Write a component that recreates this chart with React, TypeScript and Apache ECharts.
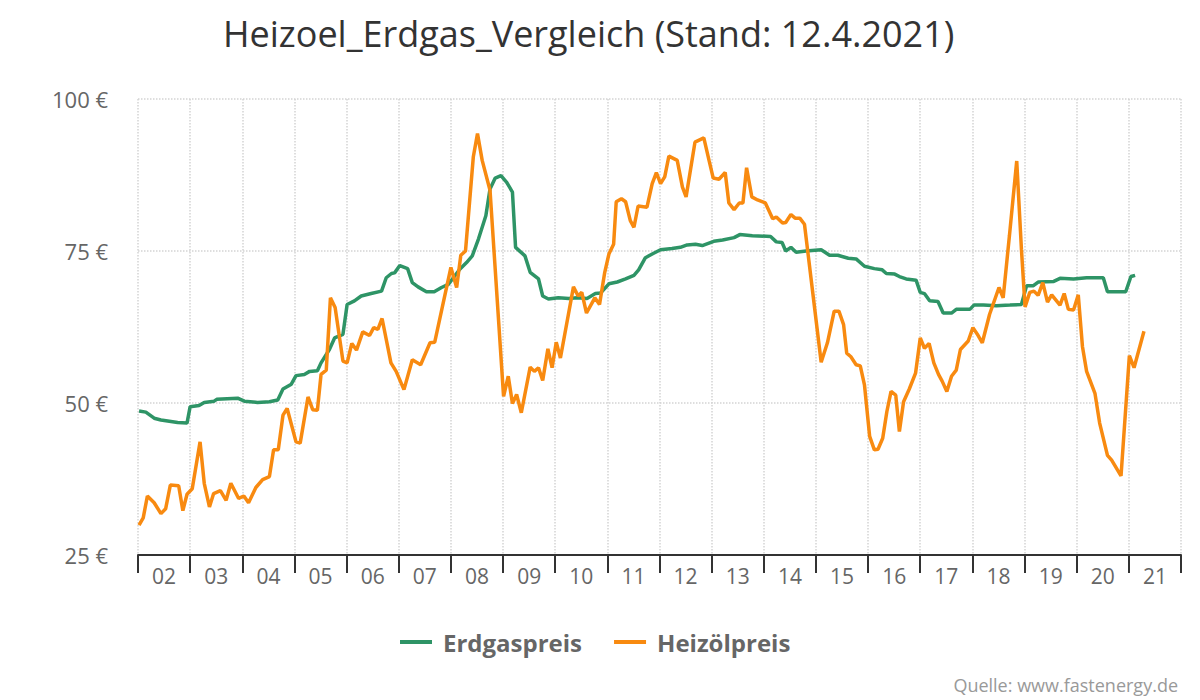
import React, { useEffect, useRef } from "react";
import * as echarts from "echarts";

const yearLabels = ["02","03","04","05","06","07","08","09","10","11","12","13","14","15","16","17","18","19","20","21"];
const yTicks = { min: 25, max: 100, interval: 25 };

const gasData: [number, number][] = [
  [2002.02,48.7],[2002.15,48.5],[2002.31,47.5],[2002.44,47.2],[2002.76,46.8],[2002.94,46.7],
  [2003.0,49.4],[2003.17,49.6],[2003.27,50.1],[2003.46,50.3],[2003.51,50.6],[2003.91,50.8],
  [2004.04,50.3],[2004.29,50.1],[2004.52,50.2],[2004.68,50.5],[2004.78,52.3],[2004.94,53.1],
  [2005.03,54.5],[2005.19,54.7],[2005.29,55.2],[2005.44,55.3],[2005.51,56.6],[2005.67,58.8],
  [2005.77,60.7],[2005.93,61.3],[2006.01,66.2],[2006.15,66.8],[2006.28,67.6],[2006.47,68.0],
  [2006.67,68.4],[2006.76,70.6],[2006.86,71.3],[2006.92,71.4],[2007.02,72.6],[2007.17,72.1],
  [2007.26,69.8],[2007.37,69.1],[2007.53,68.3],[2007.68,68.3],[2007.82,69.0],[2007.95,69.5],
  [2008.17,72.0],[2008.30,73.1],[2008.41,74.2],[2008.53,77.0],[2008.67,80.8],[2008.75,85.2],
  [2008.85,87.0],[2008.96,87.4],[2009.07,86.3],[2009.18,84.7],[2009.24,75.6],[2009.33,74.9],
  [2009.42,74.2],[2009.52,71.5],[2009.68,70.4],[2009.76,67.6],[2009.87,67.1],[2010.06,67.3],
  [2010.26,67.2],[2010.42,67.3],[2010.61,67.2],[2010.77,68.0],[2010.87,68.1],[2011.03,69.6],
  [2011.19,69.9],[2011.35,70.4],[2011.51,71.0],[2011.60,71.9],[2011.73,73.9],[2011.86,74.5],
  [2012.02,75.2],[2012.24,75.4],[2012.40,75.6],[2012.53,76.0],[2012.69,76.1],[2012.82,75.9],
  [2013.04,76.6],[2013.21,76.8],[2013.43,77.2],[2013.54,77.7],[2013.78,77.5],[2014.13,77.4],
  [2014.24,76.5],[2014.35,76.4],[2014.42,75.0],[2014.52,75.6],[2014.62,74.8],[2014.81,75.0],
  [2015.10,75.2],[2015.26,74.3],[2015.42,74.3],[2015.62,73.8],[2015.77,73.7],[2015.93,72.5],
  [2016.12,72.1],[2016.27,71.9],[2016.35,71.3],[2016.51,71.2],[2016.60,70.8],[2016.73,70.4],
  [2016.92,70.2],[2017.0,68.2],[2017.08,68.0],[2017.18,66.8],[2017.34,66.7],[2017.44,64.8],
  [2017.60,64.8],[2017.69,65.4],[2017.95,65.4],[2018.03,66.1],[2018.21,66.1],[2018.46,66.0],
  [2018.72,66.1],[2018.94,66.2],[2019.04,69.3],[2019.17,69.3],[2019.26,69.9],[2019.56,70.0],
  [2019.68,70.5],[2019.94,70.4],[2020.19,70.6],[2020.51,70.6],[2020.59,68.3],[2020.94,68.3],
  [2021.04,70.8],[2021.12,71.0]
];

const oilData: [number, number][] = [
  [2002.02,29.9],[2002.10,31.1],[2002.18,34.7],[2002.31,33.6],[2002.44,31.8],[2002.53,32.6],
  [2002.62,36.5],[2002.78,36.4],[2002.86,32.3],[2002.94,35.0],[2003.04,35.9],[2003.19,43.6],
  [2003.27,36.8],[2003.37,32.9],[2003.45,35.1],[2003.58,35.6],[2003.69,34.0],[2003.78,36.8],
  [2003.93,34.3],[2004.03,34.7],[2004.12,33.6],[2004.26,36.1],[2004.39,37.4],[2004.52,37.9],
  [2004.60,42.3],[2004.69,42.3],[2004.78,48.0],[2004.86,49.1],[2005.03,43.6],[2005.11,43.4],
  [2005.26,51.0],[2005.35,48.9],[2005.44,48.8],[2005.51,54.7],[2005.61,55.4],[2005.69,67.3],
  [2005.78,65.7],[2005.93,56.9],[2006.01,56.6],[2006.10,59.8],[2006.19,58.7],[2006.31,61.7],
  [2006.44,61.1],[2006.52,62.4],[2006.60,62.1],[2006.68,63.9],[2006.85,56.6],[2006.95,55.2],
  [2007.10,52.2],[2007.26,57.1],[2007.42,56.3],[2007.60,59.9],[2007.69,60.0],[2008.0,72.3],
  [2008.11,69.0],[2008.19,74.3],[2008.28,75.0],[2008.43,90.5],[2008.51,94.3],[2008.60,89.9],
  [2008.75,85.0],[2009.01,51.1],[2009.10,54.4],[2009.18,49.9],[2009.26,51.4],[2009.35,48.4],
  [2009.52,55.9],[2009.60,55.2],[2009.68,55.8],[2009.76,53.7],[2009.86,58.9],[2009.94,55.8],
  [2010.02,60.0],[2010.10,57.4],[2010.35,69.1],[2010.44,67.6],[2010.51,68.2],[2010.60,64.8],
  [2010.76,67.3],[2010.85,66.2],[2010.95,71.5],[2011.03,74.5],[2011.12,76.1],[2011.17,83.1],
  [2011.27,83.6],[2011.35,83.1],[2011.44,80.0],[2011.51,78.9],[2011.59,82.4],[2011.76,82.2],
  [2011.86,86.1],[2011.94,87.9],[2012.02,86.1],[2012.10,87.2],[2012.18,90.6],[2012.34,89.9],
  [2012.44,85.5],[2012.51,83.9],[2012.68,92.9],[2012.85,93.6],[2012.95,89.9],[2013.03,87.0],
  [2013.14,86.8],[2013.26,87.9],[2013.33,82.9],[2013.43,81.8],[2013.53,82.9],[2013.60,82.9],
  [2013.67,88.7],[2013.77,83.9],[2013.88,83.4],[2014.03,82.9],[2014.17,80.3],[2014.24,80.6],
  [2014.36,79.6],[2014.42,79.7],[2014.52,81.0],[2014.60,80.4],[2014.69,80.4],[2014.78,79.4],
  [2015.10,56.7],[2015.22,59.9],[2015.35,65.1],[2015.44,65.1],[2015.53,62.9],[2015.59,58.2],
  [2015.67,57.6],[2015.77,56.3],[2015.85,56.1],[2015.93,53.0],[2016.03,44.5],[2016.12,42.3],
  [2016.19,42.4],[2016.28,44.2],[2016.36,48.6],[2016.44,51.9],[2016.53,51.3],[2016.60,45.3],
  [2016.68,50.2],[2016.79,52.3],[2016.91,54.9],[2017.0,60.7],[2017.08,59.0],[2017.17,59.8],
  [2017.26,56.6],[2017.35,54.7],[2017.42,53.6],[2017.51,51.9],[2017.60,54.4],[2017.69,55.4],
  [2017.77,58.8],[2017.92,60.2],[2018.01,62.4],[2018.11,61.1],[2018.19,59.9],[2018.33,64.6],
  [2018.51,69.0],[2018.59,67.3],[2018.71,77.5],[2018.85,89.8],[2018.94,75.3],[2019.01,65.8],
  [2019.10,68.2],[2019.18,68.4],[2019.26,67.7],[2019.35,69.8],[2019.44,66.6],[2019.52,67.8],
  [2019.68,66.1],[2019.76,68.0],[2019.84,65.4],[2019.94,65.3],[2020.03,67.8],[2020.11,59.3],
  [2020.19,55.2],[2020.35,51.6],[2020.44,46.7],[2020.59,41.4],[2020.67,40.6],[2020.85,38.0],
  [2021.01,57.8],[2021.10,55.8],[2021.29,61.8]
];

const FONT = "'Open Sans', 'Noto Sans', sans-serif";

export default function App() {
  const ref = useRef<HTMLDivElement>(null);
  useEffect(() => {
    if (!ref.current) return;
    const chart = echarts.init(ref.current, null, { renderer: "svg" });
    chart.setOption({
      animation: false,
      backgroundColor: "#ffffff",
      textStyle: { fontFamily: FONT },
      title: [
        {
          text: "Heizoel_Erdgas_Vergleich (Stand: 12.4.2021)",
          left: 218,
          top: 10,
          textStyle: { fontFamily: FONT, fontSize: 36, fontWeight: "normal", color: "#333333" },
        },
        {
          text: "Quelle: www.fastenergy.de",
          right: 17,
          top: 671,
          textStyle: { fontFamily: FONT, fontSize: 18, fontWeight: "normal", color: "#999999" },
        },
      ],
      legend: {
        bottom: 41,
        left: 395,
        icon: "rect",
        itemWidth: 32,
        itemHeight: 4,
        itemGap: 32,
        textStyle: { fontFamily: FONT, fontSize: 24, fontWeight: "bold", color: "#666666", padding: [0, 0, 0, 6] },
        data: ["Erdgaspreis", "Heizölpreis"],
      },
      grid: { left: 138, right: 19, top: 99, bottom: 145, containLabel: false },
      xAxis: [
        {
          type: "category",
          data: yearLabels,
          boundaryGap: true,
          axisLine: { show: true, lineStyle: { color: "#333333", width: 2 } },
          axisTick: { show: true, length: 18, lineStyle: { color: "#333333", width: 2 } },
          axisLabel: { color: "#666666", fontSize: 21, fontFamily: FONT, margin: 10 },
          splitLine: { show: true, lineStyle: { color: "#d4d4d4", type: "dotted", width: 1.5 } },
        },
        {
          type: "value",
          min: 2002,
          max: 2022,
          show: false,
          splitLine: { show: false },
        },
      ],
      yAxis: {
        type: "value",
        min: yTicks.min,
        max: yTicks.max,
        interval: yTicks.interval,
        axisLine: { show: false },
        axisTick: { show: false },
        axisLabel: { formatter: "{value} €", color: "#666666", fontSize: 22, fontFamily: FONT, margin: 30 },
        splitLine: { show: true, lineStyle: { color: "#d4d4d4", type: "dotted", width: 1.5 } },
      },
      series: [
        {
          name: "Erdgaspreis",
          type: "line",
          xAxisIndex: 1,
          data: gasData,
          showSymbol: false,
          symbol: "none",
          color: "#2e9466",
          lineStyle: { width: 3.5, color: "#2e9466" },
        },
        {
          name: "Heizölpreis",
          type: "line",
          xAxisIndex: 1,
          data: oilData,
          showSymbol: false,
          symbol: "none",
          color: "#f88a10",
          lineStyle: { width: 3.5, color: "#f88a10" },
        },
      ],
    });
    return () => chart.dispose();
  }, []);
  return <div ref={ref} style={{ width: 1200, height: 700, position: "absolute", left: 0, top: 0 }} />;
}
